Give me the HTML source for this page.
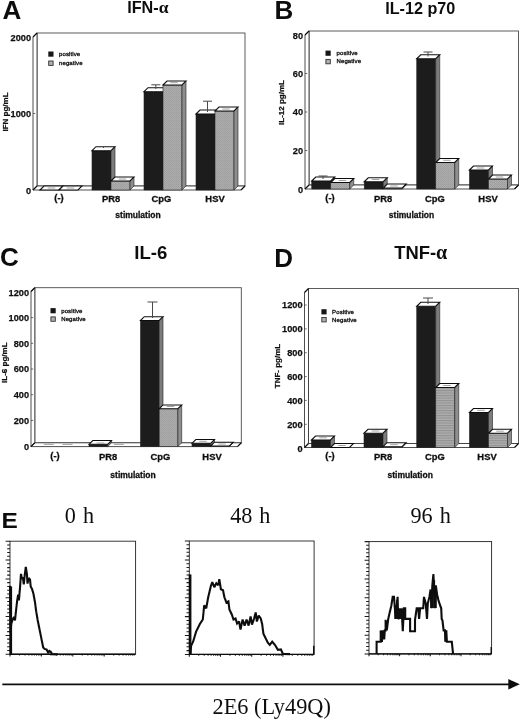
<!DOCTYPE html>
<html><head><meta charset="utf-8"><title>Figure</title>
<style>
html,body{margin:0;padding:0;background:#fff;}
body{width:520px;height:720px;overflow:hidden;font-family:"Liberation Sans",sans-serif;}
svg{display:block;}
</style></head><body>
<svg width="520" height="720" viewBox="0 0 520 720">
<rect width="520" height="720" fill="#fff"/>
<defs><filter id="soft" x="0" y="0" width="520" height="720" filterUnits="userSpaceOnUse"><feGaussianBlur stdDeviation="0.4"/></filter></defs>
<g filter="url(#soft)">
<defs><pattern id="gx" width="2" height="2" patternUnits="userSpaceOnUse"><rect width="2" height="2" fill="#adadad"/><rect width="1" height="1" fill="#9c9c9c"/><rect x="1" y="1" width="1" height="1" fill="#a2a2a2"/></pattern><pattern id="gh" width="4" height="2.5" patternUnits="userSpaceOnUse"><rect width="4" height="2.5" fill="#adadad"/><rect width="4" height="1.1" fill="#929292"/></pattern></defs>
<rect x="37" y="33" width="208" height="153" fill="#fff" stroke="#4a4a4a" stroke-width="0.9"/>
<polygon points="33,37 37,33 37,186 33,190" fill="#fff" stroke="#3a3a3a" stroke-width="0.9"/>
<polygon points="33,190 37,186 245,186 241,190" fill="#fff" stroke="#3a3a3a" stroke-width="0.9"/>
<path d="M33,37 L37,33 M33,190 L37,186 M241,190 L245,186" stroke="#111" stroke-width="1.3" fill="none"/>
<text x="31.0" y="40.599999999999994" font-family="Liberation Sans" font-size="9.2" font-weight="bold" text-anchor="end" fill="#111" stroke="#111" stroke-width="0.25">2000</text>
<path d="M33,113.5 H35.2" stroke="#444" stroke-width="0.8"/>
<text x="31.0" y="116.8" font-family="Liberation Sans" font-size="9.2" font-weight="bold" text-anchor="end" fill="#111" stroke="#111" stroke-width="0.25">1000</text>
<text x="31.0" y="194.10000000000002" font-family="Liberation Sans" font-size="9.2" font-weight="bold" text-anchor="end" fill="#111" stroke="#111" stroke-width="0.25">0</text>
<polygon points="40,190 44,186 63,186 59,190" fill="#fff" stroke="#111" stroke-width="1.1"/>
<polygon points="59,190 63,186 82,186 78,190" fill="#fff" stroke="#111" stroke-width="1.1"/>
<rect x="92" y="150.7" width="19" height="39.30000000000001" fill="#1c1c1c" stroke="#222" stroke-width="0.6"/><polygon points="111,150.7 115,146.7 115,186 111,190" fill="#7c7c7c" stroke="#222" stroke-width="0.6"/><polygon points="92,150.7 96,146.7 115,146.7 111,150.7" fill="#fff" stroke="#111" stroke-width="1.1"/>
<rect x="111" y="181" width="19" height="9" fill="url(#gx)" stroke="#222" stroke-width="0.6"/><polygon points="130,181 134,177 134,186 130,190" fill="#8e8e8e" stroke="#222" stroke-width="0.6"/><polygon points="111,181 115,177 134,177 130,181" fill="#fff" stroke="#111" stroke-width="1.1"/>
<rect x="144" y="91.7" width="19" height="98.3" fill="#1c1c1c" stroke="#222" stroke-width="0.6"/><polygon points="144,91.7 148,87.7 167,87.7 163,91.7" fill="#fff" stroke="#111" stroke-width="1.1"/>
<rect x="163" y="85" width="19" height="105" fill="url(#gx)" stroke="#222" stroke-width="0.6"/><polygon points="182,85 186,81 186,186 182,190" fill="#8e8e8e" stroke="#222" stroke-width="0.6"/><polygon points="163,85 167,81 186,81 182,85" fill="#fff" stroke="#111" stroke-width="1.1"/>
<rect x="196" y="114" width="19" height="76" fill="#1c1c1c" stroke="#222" stroke-width="0.6"/><polygon points="196,114 200,110 219,110 215,114" fill="#fff" stroke="#111" stroke-width="1.1"/>
<rect x="215" y="111" width="19" height="79" fill="url(#gx)" stroke="#222" stroke-width="0.6"/><polygon points="234,111 238,107 238,186 234,190" fill="#8e8e8e" stroke="#222" stroke-width="0.6"/><polygon points="215,111 219,107 238,107 234,111" fill="#fff" stroke="#111" stroke-width="1.1"/>
<path d="M155.8,89 V84.8 M151.3,84.8 H160.3" stroke="#4a4a4a" stroke-width="1" fill="none"/>
<path d="M207.5,112 V101.2 M203.0,101.2 H212.0" stroke="#4a4a4a" stroke-width="1" fill="none"/>
<path d="M103.5,148 V146.5 M103.5,146.5 H103.5" stroke="#4a4a4a" stroke-width="1" fill="none"/>
<path d="M47.75,188 H55.25" stroke="#8a8a8a" stroke-width="0.8" fill="none"/>
<path d="M66.75,188 H74.25" stroke="#8a8a8a" stroke-width="0.8" fill="none"/>
<path d="M118.75,179 H126.25" stroke="#8a8a8a" stroke-width="0.8" fill="none"/>
<path d="M170.25,82.7 H177.75" stroke="#8a8a8a" stroke-width="0.8" fill="none"/>
<path d="M222.25,109 H229.75" stroke="#8a8a8a" stroke-width="0.8" fill="none"/>
<text x="59" y="200.7" font-family="Liberation Sans" font-size="9.4" font-weight="bold" text-anchor="middle" fill="#111" stroke="#111" stroke-width="0.3">(-)</text>
<text x="111" y="202.29999999999998" font-family="Liberation Sans" font-size="9.4" font-weight="bold" text-anchor="middle" fill="#111" stroke="#111" stroke-width="0.3">PR8</text>
<text x="161.5" y="202.29999999999998" font-family="Liberation Sans" font-size="9.4" font-weight="bold" text-anchor="middle" fill="#111" stroke="#111" stroke-width="0.3">CpG</text>
<text x="215" y="202.29999999999998" font-family="Liberation Sans" font-size="9.4" font-weight="bold" text-anchor="middle" fill="#111" stroke="#111" stroke-width="0.3">HSV</text>
<text x="138" y="218.3" font-family="Liberation Sans" font-size="8.5" font-weight="bold" text-anchor="middle" fill="#111" stroke="#111" stroke-width="0.3">stimulation</text>
<text transform="translate(8,112) rotate(-90)" font-family="Liberation Sans" font-size="8" font-weight="bold" text-anchor="middle" fill="#111" stroke="#111" stroke-width="0.25">IFN pg/mL</text>
<rect x="48.3" y="51.5" width="5.2" height="5.2" fill="#181818"/>
<rect x="48.699999999999996" y="61.0" width="4.4" height="4.4" fill="#b0b0b0" stroke="#333" stroke-width="0.9"/>
<text x="59" y="55.9" font-family="Liberation Sans" font-size="6.0" font-weight="normal" text-anchor="start" fill="#111" stroke="#111" stroke-width="0.32" letter-spacing="0.12">positive</text>
<text x="59" y="65.0" font-family="Liberation Sans" font-size="6.0" font-weight="normal" text-anchor="start" fill="#111" stroke="#111" stroke-width="0.32" letter-spacing="0.12">negative</text>
<rect x="309" y="31" width="209.5" height="154" fill="#fff" stroke="#4a4a4a" stroke-width="0.9"/>
<polygon points="305,35 309,31 309,185 305,189" fill="#fff" stroke="#3a3a3a" stroke-width="0.9"/>
<polygon points="305,189 309,185 518.5,185 514.5,189" fill="#fff" stroke="#3a3a3a" stroke-width="0.9"/>
<path d="M305,35 L309,31 M305,189 L309,185 M514.5,189 L518.5,185" stroke="#111" stroke-width="1.3" fill="none"/>
<text x="303.0" y="39.099999999999994" font-family="Liberation Sans" font-size="9.2" font-weight="bold" text-anchor="end" fill="#111" stroke="#111" stroke-width="0.25">80</text>
<path d="M305,73.5 H307.2" stroke="#444" stroke-width="0.8"/>
<text x="303.0" y="76.8" font-family="Liberation Sans" font-size="9.2" font-weight="bold" text-anchor="end" fill="#111" stroke="#111" stroke-width="0.25">60</text>
<path d="M305,112 H307.2" stroke="#444" stroke-width="0.8"/>
<text x="303.0" y="115.3" font-family="Liberation Sans" font-size="9.2" font-weight="bold" text-anchor="end" fill="#111" stroke="#111" stroke-width="0.25">40</text>
<path d="M305,150.5 H307.2" stroke="#444" stroke-width="0.8"/>
<text x="303.0" y="153.8" font-family="Liberation Sans" font-size="9.2" font-weight="bold" text-anchor="end" fill="#111" stroke="#111" stroke-width="0.25">20</text>
<text x="303.0" y="193.10000000000002" font-family="Liberation Sans" font-size="9.2" font-weight="bold" text-anchor="end" fill="#111" stroke="#111" stroke-width="0.25">0</text>
<rect x="311.75" y="181" width="19.0" height="8" fill="#1c1c1c" stroke="#222" stroke-width="0.6"/><polygon points="330.75,181 334.75,177 334.75,185 330.75,189" fill="#7c7c7c" stroke="#222" stroke-width="0.6"/><polygon points="311.75,181 315.75,177 334.75,177 330.75,181" fill="#fff" stroke="#111" stroke-width="1.1"/>
<rect x="330.75" y="182.5" width="19.0" height="6.5" fill="url(#gx)" stroke="#222" stroke-width="0.6"/><polygon points="349.75,182.5 353.75,178.5 353.75,185 349.75,189" fill="#8e8e8e" stroke="#222" stroke-width="0.6"/><polygon points="330.75,182.5 334.75,178.5 353.75,178.5 349.75,182.5" fill="#fff" stroke="#111" stroke-width="1.1"/>
<rect x="364.25" y="181.75" width="19.0" height="7.25" fill="#1c1c1c" stroke="#222" stroke-width="0.6"/><polygon points="383.25,181.75 387.25,177.75 387.25,185 383.25,189" fill="#7c7c7c" stroke="#222" stroke-width="0.6"/><polygon points="364.25,181.75 368.25,177.75 387.25,177.75 383.25,181.75" fill="#fff" stroke="#111" stroke-width="1.1"/>
<rect x="383.25" y="188" width="19.0" height="1" fill="url(#gx)" stroke="#222" stroke-width="0.6"/><polygon points="402.25,188 406.25,184 406.25,185 402.25,189" fill="#8e8e8e" stroke="#222" stroke-width="0.6"/><polygon points="383.25,188 387.25,184 406.25,184 402.25,188" fill="#fff" stroke="#111" stroke-width="1.1"/>
<rect x="416.75" y="58.75" width="19.0" height="130.25" fill="#1c1c1c" stroke="#222" stroke-width="0.6"/><polygon points="435.75,58.75 439.75,54.75 439.75,185 435.75,189" fill="#7c7c7c" stroke="#222" stroke-width="0.6"/><polygon points="416.75,58.75 420.75,54.75 439.75,54.75 435.75,58.75" fill="#fff" stroke="#111" stroke-width="1.1"/>
<rect x="435.75" y="162.5" width="19.0" height="26.5" fill="url(#gx)" stroke="#222" stroke-width="0.6"/><polygon points="454.75,162.5 458.75,158.5 458.75,185 454.75,189" fill="#8e8e8e" stroke="#222" stroke-width="0.6"/><polygon points="435.75,162.5 439.75,158.5 458.75,158.5 454.75,162.5" fill="#fff" stroke="#111" stroke-width="1.1"/>
<rect x="469.5" y="170" width="19.0" height="19" fill="#1c1c1c" stroke="#222" stroke-width="0.6"/><polygon points="488.5,170 492.5,166 492.5,185 488.5,189" fill="#7c7c7c" stroke="#222" stroke-width="0.6"/><polygon points="469.5,170 473.5,166 492.5,166 488.5,170" fill="#fff" stroke="#111" stroke-width="1.1"/>
<rect x="488.5" y="179" width="19.0" height="10" fill="url(#gx)" stroke="#222" stroke-width="0.6"/><polygon points="507.5,179 511.5,175 511.5,185 507.5,189" fill="#8e8e8e" stroke="#222" stroke-width="0.6"/><polygon points="488.5,179 492.5,175 511.5,175 507.5,179" fill="#fff" stroke="#111" stroke-width="1.1"/>
<path d="M323,179 V176 M318.5,176 H327.5" stroke="#4a4a4a" stroke-width="1" fill="none"/>
<path d="M428,56.5 V52 M423.5,52 H432.5" stroke="#4a4a4a" stroke-width="1" fill="none"/>
<path d="M338.75,180.5 H346.25" stroke="#8a8a8a" stroke-width="0.8" fill="none"/>
<path d="M371.75,179.5 H379.25" stroke="#8a8a8a" stroke-width="0.8" fill="none"/>
<path d="M390.25,186 H397.75" stroke="#8a8a8a" stroke-width="0.8" fill="none"/>
<path d="M443.25,160.3 H450.75" stroke="#8a8a8a" stroke-width="0.8" fill="none"/>
<path d="M476.75,168 H484.25" stroke="#8a8a8a" stroke-width="0.8" fill="none"/>
<path d="M495.75,177 H503.25" stroke="#8a8a8a" stroke-width="0.8" fill="none"/>
<text x="330" y="200.7" font-family="Liberation Sans" font-size="9.4" font-weight="bold" text-anchor="middle" fill="#111" stroke="#111" stroke-width="0.3">(-)</text>
<text x="383" y="202.29999999999998" font-family="Liberation Sans" font-size="9.4" font-weight="bold" text-anchor="middle" fill="#111" stroke="#111" stroke-width="0.3">PR8</text>
<text x="435" y="202.29999999999998" font-family="Liberation Sans" font-size="9.4" font-weight="bold" text-anchor="middle" fill="#111" stroke="#111" stroke-width="0.3">CpG</text>
<text x="488" y="202.29999999999998" font-family="Liberation Sans" font-size="9.4" font-weight="bold" text-anchor="middle" fill="#111" stroke="#111" stroke-width="0.3">HSV</text>
<text x="411.5" y="218.3" font-family="Liberation Sans" font-size="8.5" font-weight="bold" text-anchor="middle" fill="#111" stroke="#111" stroke-width="0.3">stimulation</text>
<text transform="translate(284.2,102.5) rotate(-90)" font-family="Liberation Sans" font-size="8" font-weight="bold" text-anchor="middle" fill="#111" stroke="#111" stroke-width="0.25">IL-12 pg/mL</text>
<rect x="325.5" y="50.6" width="5.2" height="5.2" fill="#181818"/>
<rect x="325.9" y="59.4" width="4.4" height="4.4" fill="#b0b0b0" stroke="#333" stroke-width="0.9"/>
<text x="336.5" y="55.0" font-family="Liberation Sans" font-size="6.0" font-weight="normal" text-anchor="start" fill="#111" stroke="#111" stroke-width="0.32" letter-spacing="0.12">positive</text>
<text x="336.5" y="63.4" font-family="Liberation Sans" font-size="6.0" font-weight="normal" text-anchor="start" fill="#111" stroke="#111" stroke-width="0.32" letter-spacing="0.12">Negative</text>
<rect x="34.8" y="287.7" width="206.5" height="155.10000000000002" fill="#fff" stroke="#4a4a4a" stroke-width="0.9"/>
<polygon points="31,291.5 34.8,287.7 34.8,442.8 31,446.6" fill="#fff" stroke="#3a3a3a" stroke-width="0.9"/>
<polygon points="31,446.6 34.8,442.8 241.3,442.8 237.5,446.6" fill="#fff" stroke="#3a3a3a" stroke-width="0.9"/>
<path d="M31,291.5 L34.8,287.7 M31,446.6 L34.8,442.8 M237.5,446.6 L241.3,442.8" stroke="#111" stroke-width="1.3" fill="none"/>
<text x="29.0" y="296.1" font-family="Liberation Sans" font-size="9.2" font-weight="bold" text-anchor="end" fill="#111" stroke="#111" stroke-width="0.25">1200</text>
<path d="M31,317.6 H33.2" stroke="#444" stroke-width="0.8"/>
<text x="29.0" y="320.90000000000003" font-family="Liberation Sans" font-size="9.2" font-weight="bold" text-anchor="end" fill="#111" stroke="#111" stroke-width="0.25">1000</text>
<path d="M31,343.3 H33.2" stroke="#444" stroke-width="0.8"/>
<text x="29.0" y="346.6" font-family="Liberation Sans" font-size="9.2" font-weight="bold" text-anchor="end" fill="#111" stroke="#111" stroke-width="0.25">800</text>
<path d="M31,369 H33.2" stroke="#444" stroke-width="0.8"/>
<text x="29.0" y="372.3" font-family="Liberation Sans" font-size="9.2" font-weight="bold" text-anchor="end" fill="#111" stroke="#111" stroke-width="0.25">600</text>
<path d="M31,394.7 H33.2" stroke="#444" stroke-width="0.8"/>
<text x="29.0" y="398.0" font-family="Liberation Sans" font-size="9.2" font-weight="bold" text-anchor="end" fill="#111" stroke="#111" stroke-width="0.25">400</text>
<path d="M31,420.4 H33.2" stroke="#444" stroke-width="0.8"/>
<text x="29.0" y="423.7" font-family="Liberation Sans" font-size="9.2" font-weight="bold" text-anchor="end" fill="#111" stroke="#111" stroke-width="0.25">200</text>
<text x="29.0" y="450.1" font-family="Liberation Sans" font-size="9.2" font-weight="bold" text-anchor="end" fill="#111" stroke="#111" stroke-width="0.25">0</text>
<rect x="89" y="444.3" width="18.700000000000003" height="2.3000000000000114" fill="#1c1c1c" stroke="#222" stroke-width="0.6"/><polygon points="107.7,444.3 111.5,440.5 111.5,442.8 107.7,446.6" fill="#7c7c7c" stroke="#222" stroke-width="0.6"/><polygon points="89,444.3 92.8,440.5 111.5,440.5 107.7,444.3" fill="#fff" stroke="#111" stroke-width="1.1"/>
<rect x="140.5" y="320.5" width="18.69999999999999" height="126.10000000000002" fill="#1c1c1c" stroke="#222" stroke-width="0.6"/><polygon points="159.2,320.5 163.0,316.7 163.0,442.8 159.2,446.6" fill="#7c7c7c" stroke="#222" stroke-width="0.6"/><polygon points="140.5,320.5 144.3,316.7 163.0,316.7 159.2,320.5" fill="#fff" stroke="#111" stroke-width="1.1"/>
<rect x="159.2" y="408.75" width="18.700000000000017" height="37.85000000000002" fill="url(#gx)" stroke="#222" stroke-width="0.6"/><polygon points="177.9,408.75 181.70000000000002,404.95 181.70000000000002,442.8 177.9,446.6" fill="#8e8e8e" stroke="#222" stroke-width="0.6"/><polygon points="159.2,408.75 163.0,404.95 181.70000000000002,404.95 177.9,408.75" fill="#fff" stroke="#111" stroke-width="1.1"/>
<rect x="192" y="443.3" width="18.69999999999999" height="3.3000000000000114" fill="#1c1c1c" stroke="#222" stroke-width="0.6"/><polygon points="210.7,443.3 214.5,439.5 214.5,442.8 210.7,446.6" fill="#7c7c7c" stroke="#222" stroke-width="0.6"/><polygon points="192,443.3 195.8,439.5 214.5,439.5 210.7,443.3" fill="#fff" stroke="#111" stroke-width="1.1"/>
<rect x="210.7" y="446" width="18.700000000000017" height="0.6000000000000227" fill="url(#gx)" stroke="#222" stroke-width="0.6"/><polygon points="229.4,446 233.20000000000002,442.2 233.20000000000002,442.8 229.4,446.6" fill="#8e8e8e" stroke="#222" stroke-width="0.6"/><polygon points="210.7,446 214.5,442.2 233.20000000000002,442.2 229.4,446" fill="#fff" stroke="#111" stroke-width="1.1"/>
<path d="M152.5,318 V302 M147.5,302 H157.5" stroke="#4a4a4a" stroke-width="1" fill="none"/>
<path d="M43.8,444.4 H53.8" stroke="#8a8a8a" stroke-width="0.8" fill="none"/>
<path d="M62.5,444.4 H72.5" stroke="#8a8a8a" stroke-width="0.8" fill="none"/>
<path d="M96.75,443 H104.25" stroke="#8a8a8a" stroke-width="0.8" fill="none"/>
<path d="M113.8,444.4 H123.8" stroke="#8a8a8a" stroke-width="0.8" fill="none"/>
<path d="M166.75,406.5 H174.25" stroke="#8a8a8a" stroke-width="0.8" fill="none"/>
<path d="M199.25,441.3 H206.75" stroke="#8a8a8a" stroke-width="0.8" fill="none"/>
<path d="M218.25,444 H225.75" stroke="#8a8a8a" stroke-width="0.8" fill="none"/>
<text x="55" y="458.49999999999994" font-family="Liberation Sans" font-size="9.4" font-weight="bold" text-anchor="middle" fill="#111" stroke="#111" stroke-width="0.3">(-)</text>
<text x="108" y="460.09999999999997" font-family="Liberation Sans" font-size="9.4" font-weight="bold" text-anchor="middle" fill="#111" stroke="#111" stroke-width="0.3">PR8</text>
<text x="160.5" y="460.09999999999997" font-family="Liberation Sans" font-size="9.4" font-weight="bold" text-anchor="middle" fill="#111" stroke="#111" stroke-width="0.3">CpG</text>
<text x="212" y="460.09999999999997" font-family="Liberation Sans" font-size="9.4" font-weight="bold" text-anchor="middle" fill="#111" stroke="#111" stroke-width="0.3">HSV</text>
<text x="133" y="477.5" font-family="Liberation Sans" font-size="8.5" font-weight="bold" text-anchor="middle" fill="#111" stroke="#111" stroke-width="0.3">stimulation</text>
<text transform="translate(7.2,362.7) rotate(-90)" font-family="Liberation Sans" font-size="8" font-weight="bold" text-anchor="middle" fill="#111" stroke="#111" stroke-width="0.25">IL-6 pg/mL</text>
<rect x="50.5" y="308.1" width="5.2" height="5.2" fill="#181818"/>
<rect x="50.9" y="316.9" width="4.4" height="4.4" fill="#b0b0b0" stroke="#333" stroke-width="0.9"/>
<text x="61.2" y="312.5" font-family="Liberation Sans" font-size="6.0" font-weight="normal" text-anchor="start" fill="#111" stroke="#111" stroke-width="0.32" letter-spacing="0.12">positive</text>
<text x="61.2" y="320.9" font-family="Liberation Sans" font-size="6.0" font-weight="normal" text-anchor="start" fill="#111" stroke="#111" stroke-width="0.32" letter-spacing="0.12">Negative</text>
<rect x="308.5" y="288.5" width="210.0" height="155.0" fill="#fff" stroke="#4a4a4a" stroke-width="0.9"/>
<polygon points="304.5,292.5 308.5,288.5 308.5,443.5 304.5,447.5" fill="#fff" stroke="#3a3a3a" stroke-width="0.9"/>
<polygon points="304.5,447.5 308.5,443.5 518.5,443.5 514.5,447.5" fill="#fff" stroke="#3a3a3a" stroke-width="0.9"/>
<path d="M304.5,292.5 L308.5,288.5 M304.5,447.5 L308.5,443.5 M514.5,447.5 L518.5,443.5" stroke="#111" stroke-width="1.3" fill="none"/>
<path d="M304.5,305 H306.7" stroke="#444" stroke-width="0.8"/>
<text x="302.5" y="308.3" font-family="Liberation Sans" font-size="9.2" font-weight="bold" text-anchor="end" fill="#111" stroke="#111" stroke-width="0.25">1200</text>
<path d="M304.5,328.9 H306.7" stroke="#444" stroke-width="0.8"/>
<text x="302.5" y="332.2" font-family="Liberation Sans" font-size="9.2" font-weight="bold" text-anchor="end" fill="#111" stroke="#111" stroke-width="0.25">1000</text>
<path d="M304.5,352.7 H306.7" stroke="#444" stroke-width="0.8"/>
<text x="302.5" y="356.0" font-family="Liberation Sans" font-size="9.2" font-weight="bold" text-anchor="end" fill="#111" stroke="#111" stroke-width="0.25">800</text>
<path d="M304.5,376.6 H306.7" stroke="#444" stroke-width="0.8"/>
<text x="302.5" y="379.90000000000003" font-family="Liberation Sans" font-size="9.2" font-weight="bold" text-anchor="end" fill="#111" stroke="#111" stroke-width="0.25">600</text>
<path d="M304.5,400.4 H306.7" stroke="#444" stroke-width="0.8"/>
<text x="302.5" y="403.7" font-family="Liberation Sans" font-size="9.2" font-weight="bold" text-anchor="end" fill="#111" stroke="#111" stroke-width="0.25">400</text>
<path d="M304.5,424.3 H306.7" stroke="#444" stroke-width="0.8"/>
<text x="302.5" y="427.6" font-family="Liberation Sans" font-size="9.2" font-weight="bold" text-anchor="end" fill="#111" stroke="#111" stroke-width="0.25">200</text>
<text x="302.5" y="452.0" font-family="Liberation Sans" font-size="9.2" font-weight="bold" text-anchor="end" fill="#111" stroke="#111" stroke-width="0.25">0</text>
<rect x="311.5" y="440" width="19.0" height="7.5" fill="#1c1c1c" stroke="#222" stroke-width="0.6"/><polygon points="330.5,440 334.5,436 334.5,443.5 330.5,447.5" fill="#7c7c7c" stroke="#222" stroke-width="0.6"/><polygon points="311.5,440 315.5,436 334.5,436 330.5,440" fill="#fff" stroke="#111" stroke-width="1.1"/>
<polygon points="330.5,447.5 334.5,443.5 353.5,443.5 349.5,447.5" fill="#fff" stroke="#111" stroke-width="1.1"/>
<rect x="364" y="433.25" width="19" height="14.25" fill="#1c1c1c" stroke="#222" stroke-width="0.6"/><polygon points="383,433.25 387,429.25 387,443.5 383,447.5" fill="#7c7c7c" stroke="#222" stroke-width="0.6"/><polygon points="364,433.25 368,429.25 387,429.25 383,433.25" fill="#fff" stroke="#111" stroke-width="1.1"/>
<rect x="383" y="446.7" width="19" height="0.8000000000000114" fill="url(#gh)" stroke="#222" stroke-width="0.6"/><polygon points="402,446.7 406,442.7 406,443.5 402,447.5" fill="#8e8e8e" stroke="#222" stroke-width="0.6"/><polygon points="383,446.7 387,442.7 406,442.7 402,446.7" fill="#fff" stroke="#111" stroke-width="1.1"/>
<rect x="416.75" y="306.25" width="19.0" height="141.25" fill="#1c1c1c" stroke="#222" stroke-width="0.6"/><polygon points="435.75,306.25 439.75,302.25 439.75,443.5 435.75,447.5" fill="#7c7c7c" stroke="#222" stroke-width="0.6"/><polygon points="416.75,306.25 420.75,302.25 439.75,302.25 435.75,306.25" fill="#fff" stroke="#111" stroke-width="1.1"/>
<rect x="435.75" y="387.5" width="19.0" height="60.0" fill="url(#gh)" stroke="#222" stroke-width="0.6"/><polygon points="454.75,387.5 458.75,383.5 458.75,443.5 454.75,447.5" fill="#8e8e8e" stroke="#222" stroke-width="0.6"/><polygon points="435.75,387.5 439.75,383.5 458.75,383.5 454.75,387.5" fill="#fff" stroke="#111" stroke-width="1.1"/>
<rect x="469.5" y="412.5" width="19.0" height="35.0" fill="#1c1c1c" stroke="#222" stroke-width="0.6"/><polygon points="488.5,412.5 492.5,408.5 492.5,443.5 488.5,447.5" fill="#7c7c7c" stroke="#222" stroke-width="0.6"/><polygon points="469.5,412.5 473.5,408.5 492.5,408.5 488.5,412.5" fill="#fff" stroke="#111" stroke-width="1.1"/>
<rect x="488.5" y="433.25" width="19.0" height="14.25" fill="url(#gh)" stroke="#222" stroke-width="0.6"/><polygon points="507.5,433.25 511.5,429.25 511.5,443.5 507.5,447.5" fill="#8e8e8e" stroke="#222" stroke-width="0.6"/><polygon points="488.5,433.25 492.5,429.25 511.5,429.25 507.5,433.25" fill="#fff" stroke="#111" stroke-width="1.1"/>
<path d="M428,304 V298 M423.0,298 H433.0" stroke="#4a4a4a" stroke-width="1" fill="none"/>
<path d="M319.25,437.8 H326.75" stroke="#8a8a8a" stroke-width="0.8" fill="none"/>
<path d="M338.25,445.5 H345.75" stroke="#8a8a8a" stroke-width="0.8" fill="none"/>
<path d="M371.75,431 H379.25" stroke="#8a8a8a" stroke-width="0.8" fill="none"/>
<path d="M390.25,444.7 H397.75" stroke="#8a8a8a" stroke-width="0.8" fill="none"/>
<path d="M443.25,385.5 H450.75" stroke="#8a8a8a" stroke-width="0.8" fill="none"/>
<path d="M477.25,410.3 H484.75" stroke="#8a8a8a" stroke-width="0.8" fill="none"/>
<path d="M496.25,431.2 H503.75" stroke="#8a8a8a" stroke-width="0.8" fill="none"/>
<text x="330" y="458.49999999999994" font-family="Liberation Sans" font-size="9.4" font-weight="bold" text-anchor="middle" fill="#111" stroke="#111" stroke-width="0.3">(-)</text>
<text x="383" y="460.09999999999997" font-family="Liberation Sans" font-size="9.4" font-weight="bold" text-anchor="middle" fill="#111" stroke="#111" stroke-width="0.3">PR8</text>
<text x="435" y="460.09999999999997" font-family="Liberation Sans" font-size="9.4" font-weight="bold" text-anchor="middle" fill="#111" stroke="#111" stroke-width="0.3">CpG</text>
<text x="487" y="460.09999999999997" font-family="Liberation Sans" font-size="9.4" font-weight="bold" text-anchor="middle" fill="#111" stroke="#111" stroke-width="0.3">HSV</text>
<text x="410.2" y="477.5" font-family="Liberation Sans" font-size="8.5" font-weight="bold" text-anchor="middle" fill="#111" stroke="#111" stroke-width="0.3">stimulation</text>
<text transform="translate(280,366) rotate(-90)" font-family="Liberation Sans" font-size="8" font-weight="bold" text-anchor="middle" fill="#111" stroke="#111" stroke-width="0.25">TNF- pg/mL</text>
<rect x="321.4" y="309.2" width="5.2" height="5.2" fill="#181818"/>
<rect x="321.79999999999995" y="317.5" width="4.4" height="4.4" fill="#b0b0b0" stroke="#333" stroke-width="0.9"/>
<text x="332.1" y="313.59999999999997" font-family="Liberation Sans" font-size="6.0" font-weight="normal" text-anchor="start" fill="#111" stroke="#111" stroke-width="0.32" letter-spacing="0.12">Positive</text>
<text x="332.1" y="321.5" font-family="Liberation Sans" font-size="6.0" font-weight="normal" text-anchor="start" fill="#111" stroke="#111" stroke-width="0.32" letter-spacing="0.12">Negative</text>
<text x="2.4" y="18.9" font-family="Liberation Sans" font-size="26" font-weight="bold" text-anchor="start" fill="#111" >A</text>
<text x="274.5" y="19.4" font-family="Liberation Sans" font-size="26" font-weight="bold" text-anchor="start" fill="#111" >B</text>
<text x="0" y="266.4" font-family="Liberation Sans" font-size="26" font-weight="bold" text-anchor="start" fill="#111" >C</text>
<text x="274.3" y="266.6" font-family="Liberation Sans" font-size="26" font-weight="bold" text-anchor="start" fill="#111" >D</text>
<text x="127.2" y="12.8" font-family="Liberation Sans" font-size="16.2" font-weight="bold" text-anchor="start" fill="#111" >IFN-<tspan font-family="Liberation Serif" font-weight="bold" font-size="17.5">α</tspan></text>
<text x="385.2" y="13.7" font-family="Liberation Sans" font-size="16.2" font-weight="bold" text-anchor="start" fill="#111" >IL-12 p70</text>
<text x="134.3" y="258.7" font-family="Liberation Sans" font-size="18.6" font-weight="bold" text-anchor="start" fill="#111" >IL-6</text>
<text x="394.2" y="258.8" font-family="Liberation Sans" font-size="18.4" font-weight="bold" text-anchor="start" fill="#111" >TNF-<tspan font-family="Liberation Serif" font-weight="bold" font-size="20">α</tspan></text>
<text transform="translate(1.6,527.6) scale(1.1,1)" font-family="Liberation Sans" font-size="22.2" font-weight="bold" fill="#111">E</text>
<text x="79.4" y="522.8" font-family="Liberation Serif" font-size="22.2" font-weight="normal" text-anchor="middle" fill="#111" word-spacing="1.5">0 h</text>
<text x="250.3" y="522.8" font-family="Liberation Serif" font-size="22.2" font-weight="normal" text-anchor="middle" fill="#111" word-spacing="1.5">48 h</text>
<text x="430.6" y="522.8" font-family="Liberation Serif" font-size="22.2" font-weight="normal" text-anchor="middle" fill="#111" word-spacing="1.5">96 h</text>
<text x="271.7" y="714" font-family="Liberation Serif" font-size="22.3" font-weight="normal" text-anchor="middle" fill="#111" >2E6 (Ly49Q)</text>
<path d="M2.3,684.3 H510" stroke="#111" stroke-width="1.7"/>
<polygon points="508.3,679 519.8,684.3 508.3,689.6" fill="#111"/>
<rect x="10" y="541.2" width="125.6" height="113.0" fill="none" stroke="#222" stroke-width="0.9"/>
<path d="M5.6,654.2 H10 M7.2,650.4 H10 M7.2,646.7 H10 M7.2,642.9 H10 M7.2,639.1 H10 M5.6,635.4 H10 M7.2,631.6 H10 M7.2,627.8 H10 M7.2,624.1 H10 M7.2,620.3 H10 M5.6,616.5 H10 M7.2,612.8 H10 M7.2,609.0 H10 M7.2,605.2 H10 M7.2,601.5 H10 M5.6,597.7 H10 M7.2,593.9 H10 M7.2,590.2 H10 M7.2,586.4 H10 M7.2,582.6 H10 M5.6,578.9 H10 M7.2,575.1 H10 M7.2,571.3 H10 M7.2,567.6 H10 M7.2,563.8 H10 M5.6,560.0 H10 M7.2,556.3 H10 M7.2,552.5 H10 M7.2,548.7 H10 M7.2,545.0 H10 M5.6,541.2 H10 M10.0,654.2 V656.6 M19.5,654.2 V655.5 M25.0,654.2 V655.5 M28.9,654.2 V655.5 M31.9,654.2 V655.5 M34.4,654.2 V655.5 M36.5,654.2 V655.5 M38.4,654.2 V655.5 M40.0,654.2 V655.5 M41.4,654.2 V656.6 M50.9,654.2 V655.5 M56.4,654.2 V655.5 M60.3,654.2 V655.5 M63.3,654.2 V655.5 M65.8,654.2 V655.5 M67.9,654.2 V655.5 M69.8,654.2 V655.5 M71.4,654.2 V655.5 M72.8,654.2 V656.6 M82.3,654.2 V655.5 M87.8,654.2 V655.5 M91.7,654.2 V655.5 M94.7,654.2 V655.5 M97.2,654.2 V655.5 M99.3,654.2 V655.5 M101.2,654.2 V655.5 M102.8,654.2 V655.5 M104.2,654.2 V656.6 M113.7,654.2 V655.5 M119.2,654.2 V655.5 M123.1,654.2 V655.5 M126.1,654.2 V655.5 M128.6,654.2 V655.5 M130.7,654.2 V655.5 M132.6,654.2 V655.5 M134.2,654.2 V655.5 " stroke="#1a1a1a" stroke-width="1.05" fill="none"/>
<path d="M10.0,585.7 L10.6,632.2 L11.2,623.9 L12.6,619.7 L14.0,616.9 L15.0,620.4 L16.1,610.0 L17.2,600.3 L18.2,594.7 L18.9,600.3 L20.0,587.8 L21.0,573.9 L21.9,578.8 L22.8,577.4 L23.8,584.3 L24.7,575.3 L25.8,566.9 L26.9,573.9 L27.5,583.6 L28.6,578.1 L30.0,579.4 L30.7,586.4 L32.1,589.2 L33.5,594.0 L34.9,601.7 L36.2,611.4 L37.6,619.7 L39.0,626.7 L40.4,633.6 L41.8,640.6 L43.2,647.5 L44.6,648.9 L46.7,649.6 L48.3,653.1 L49.4,651.0 L50.8,651.7 L52.2,654.2 L57.8,654.4" stroke="#111" stroke-width="2.1" fill="none" stroke-linejoin="miter" stroke-miterlimit="2"/>
<path d="M10.8,586.4 V654.2" stroke="#111" stroke-width="2.6"/>
<path d="M10,654.2 H135.6" stroke="#111" stroke-width="1.4"/>
<rect x="189.3" y="541" width="124.80000000000001" height="113.39999999999998" fill="none" stroke="#222" stroke-width="0.9"/>
<path d="M184.9,654.4 H189.3 M186.5,650.6 H189.3 M186.5,646.8 H189.3 M186.5,643.1 H189.3 M186.5,639.3 H189.3 M184.9,635.5 H189.3 M186.5,631.7 H189.3 M186.5,627.9 H189.3 M186.5,624.2 H189.3 M186.5,620.4 H189.3 M184.9,616.6 H189.3 M186.5,612.8 H189.3 M186.5,609.0 H189.3 M186.5,605.3 H189.3 M186.5,601.5 H189.3 M184.9,597.7 H189.3 M186.5,593.9 H189.3 M186.5,590.1 H189.3 M186.5,586.4 H189.3 M186.5,582.6 H189.3 M184.9,578.8 H189.3 M186.5,575.0 H189.3 M186.5,571.2 H189.3 M186.5,567.5 H189.3 M186.5,563.7 H189.3 M184.9,559.9 H189.3 M186.5,556.1 H189.3 M186.5,552.3 H189.3 M186.5,548.6 H189.3 M186.5,544.8 H189.3 M184.9,541.0 H189.3 M189.3,654.4 V656.8 M198.7,654.4 V655.6999999999999 M204.2,654.4 V655.6999999999999 M208.1,654.4 V655.6999999999999 M211.1,654.4 V655.6999999999999 M213.6,654.4 V655.6999999999999 M215.7,654.4 V655.6999999999999 M217.5,654.4 V655.6999999999999 M219.1,654.4 V655.6999999999999 M220.5,654.4 V656.8 M229.9,654.4 V655.6999999999999 M235.4,654.4 V655.6999999999999 M239.3,654.4 V655.6999999999999 M242.3,654.4 V655.6999999999999 M244.8,654.4 V655.6999999999999 M246.9,654.4 V655.6999999999999 M248.7,654.4 V655.6999999999999 M250.3,654.4 V655.6999999999999 M251.7,654.4 V656.8 M261.1,654.4 V655.6999999999999 M266.6,654.4 V655.6999999999999 M270.5,654.4 V655.6999999999999 M273.5,654.4 V655.6999999999999 M276.0,654.4 V655.6999999999999 M278.1,654.4 V655.6999999999999 M279.9,654.4 V655.6999999999999 M281.5,654.4 V655.6999999999999 M282.9,654.4 V656.8 M292.3,654.4 V655.6999999999999 M297.8,654.4 V655.6999999999999 M301.7,654.4 V655.6999999999999 M304.7,654.4 V655.6999999999999 M307.2,654.4 V655.6999999999999 M309.3,654.4 V655.6999999999999 M311.1,654.4 V655.6999999999999 M312.7,654.4 V655.6999999999999 " stroke="#1a1a1a" stroke-width="1.05" fill="none"/>
<path d="M190.5,653.9 L191.1,645.8 L193.1,641.7 L196.1,631.6 L200.1,623.6 L202.8,619.5 L204.2,605.4 L206.2,608.4 L208.2,597.3 L210.8,586.2 L212.3,582.2 L214.3,587.2 L216.3,583.2 L218.3,585.2 L219.3,579.1 L220.9,589.2 L223.0,590.2 L224.4,597.3 L226.4,602.4 L228.4,601.3 L229.4,609.4 L231.8,614.5 L233.5,619.5 L235.5,618.5 L237.1,623.6 L239.1,621.5 L240.5,629.6 L242.6,619.5 L244.6,625.6 L246.6,619.5 L248.6,625.6 L250.6,616.5 L252.0,624.6 L254.1,618.5 L255.7,612.5 L256.9,621.5 L258.7,615.5 L260.7,618.5 L262.1,623.6 L263.4,633.7 L265.4,637.7 L267.8,642.7 L269.8,644.8 L272.2,641.7 L274.9,644.8 L277.9,649.8 L280.9,649.4 L282.9,653.9 L290.0,654.1" stroke="#111" stroke-width="2.1" fill="none" stroke-linejoin="miter" stroke-miterlimit="2"/>
<path d="M190.10000000000002,574.4 V654.4" stroke="#111" stroke-width="2.6"/>
<path d="M313.70000000000005,645.8 V654.4" stroke="#111" stroke-width="1.4"/>
<path d="M189.3,654.4 H314.1" stroke="#111" stroke-width="1.4"/>
<rect x="369" y="541.6" width="122.60000000000002" height="112.29999999999995" fill="none" stroke="#222" stroke-width="0.9"/>
<path d="M364.6,653.9 H369 M366.2,650.2 H369 M366.2,646.4 H369 M366.2,642.7 H369 M366.2,638.9 H369 M364.6,635.2 H369 M366.2,631.4 H369 M366.2,627.7 H369 M366.2,624.0 H369 M366.2,620.2 H369 M364.6,616.5 H369 M366.2,612.7 H369 M366.2,609.0 H369 M366.2,605.2 H369 M366.2,601.5 H369 M364.6,597.8 H369 M366.2,594.0 H369 M366.2,590.3 H369 M366.2,586.5 H369 M366.2,582.8 H369 M364.6,579.0 H369 M366.2,575.3 H369 M366.2,571.5 H369 M366.2,567.8 H369 M366.2,564.1 H369 M364.6,560.3 H369 M366.2,556.6 H369 M366.2,552.8 H369 M366.2,549.1 H369 M366.2,545.3 H369 M364.6,541.6 H369 M369.0,653.9 V656.3 M378.2,653.9 V655.1999999999999 M383.6,653.9 V655.1999999999999 M387.5,653.9 V655.1999999999999 M390.4,653.9 V655.1999999999999 M392.9,653.9 V655.1999999999999 M394.9,653.9 V655.1999999999999 M396.7,653.9 V655.1999999999999 M398.2,653.9 V655.1999999999999 M399.6,653.9 V656.3 M408.9,653.9 V655.1999999999999 M414.3,653.9 V655.1999999999999 M418.1,653.9 V655.1999999999999 M421.1,653.9 V655.1999999999999 M423.5,653.9 V655.1999999999999 M425.6,653.9 V655.1999999999999 M427.3,653.9 V655.1999999999999 M428.9,653.9 V655.1999999999999 M430.3,653.9 V656.3 M439.5,653.9 V655.1999999999999 M444.9,653.9 V655.1999999999999 M448.8,653.9 V655.1999999999999 M451.7,653.9 V655.1999999999999 M454.2,653.9 V655.1999999999999 M456.2,653.9 V655.1999999999999 M458.0,653.9 V655.1999999999999 M459.5,653.9 V655.1999999999999 M461.0,653.9 V656.3 M470.2,653.9 V655.1999999999999 M475.6,653.9 V655.1999999999999 M479.4,653.9 V655.1999999999999 M482.4,653.9 V655.1999999999999 M484.8,653.9 V655.1999999999999 M486.9,653.9 V655.1999999999999 M488.6,653.9 V655.1999999999999 M490.2,653.9 V655.1999999999999 " stroke="#1a1a1a" stroke-width="1.05" fill="none"/>
<path d="M376.6,654.1 L376.6,641.8 L380.7,641.8 L380.7,630.4 L381.9,641.8 L382.8,630.4 L384.2,639.4 L384.8,630.4 L385.6,630.4 L385.6,619.8 L386.8,630.4 L388.1,619.8 L389.7,612.4 L391.3,605.9 L392.7,596.9 L394.0,596.9 L394.9,608.3 L395.6,618.9 L396.6,608.3 L397.6,596.9 L398.2,618.9 L399.5,608.3 L400.5,618.9 L401.6,608.3 L402.8,631.2 L403.8,608.3 L405.2,608.3 L405.2,618.9 L410.1,618.9 L410.1,631.2 L415.0,631.2 L415.0,619.8 L416.7,608.3 L418.3,608.3 L419.1,618.9 L420.1,608.3 L423.2,608.3 L424.0,596.9 L425.7,603.4 L427.0,618.9 L427.8,603.4 L429.4,596.9 L430.6,589.5 L431.6,608.3 L432.4,584.6 L433.4,574.0 L434.2,589.5 L434.8,608.3 L435.8,585.4 L437.1,594.4 L438.4,600.1 L439.7,604.2 L441.2,608.3 L441.7,618.9 L442.5,620.6 L443.6,630.4 L445.0,630.4 L445.3,641.8 L446.3,630.4 L446.9,641.8 L451.8,641.8 L453.1,654.1" stroke="#111" stroke-width="2.1" fill="none" stroke-linejoin="miter" stroke-miterlimit="2"/>
<path d="M491.20000000000005,647 V653.9" stroke="#111" stroke-width="1.4"/>
<path d="M369,653.9 H491.6" stroke="#111" stroke-width="1.4"/>
<path d="M395.3,609 V619 M397,600 V619 M398.6,609 V619.5 M400.2,609 V619 M431,590 V608 M432.6,585 V608 M434.3,580 V608 M436,588 V608" stroke="#111" stroke-width="1.6" fill="none"/>
</g>
</svg>
</body></html>
